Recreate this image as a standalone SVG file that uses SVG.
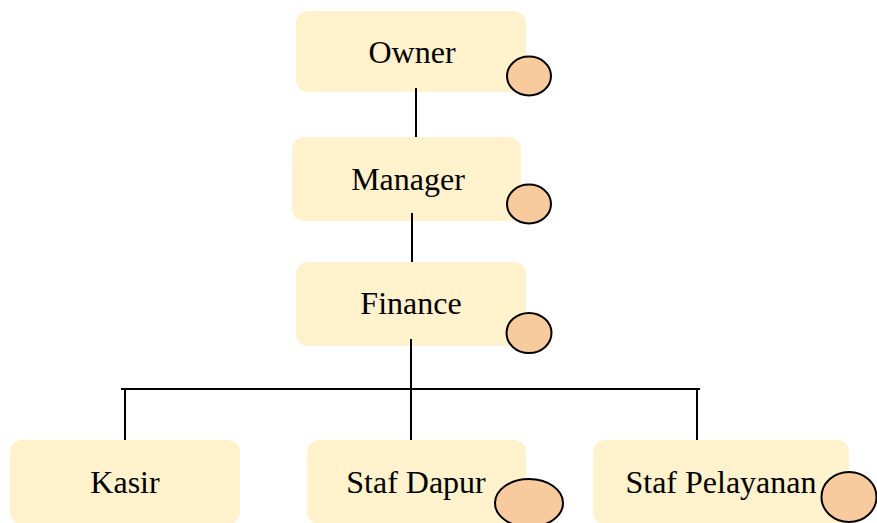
<svg xmlns="http://www.w3.org/2000/svg" width="877" height="523" viewBox="0 0 877 523">
<style>
.box{fill:#FFF2CC;}
.dot{fill:#F8CB9F;stroke:#000;stroke-width:2;}
.lbl{font-family:"Liberation Serif","Times New Roman",serif;font-size:32px;fill:#000;text-anchor:middle;}
.ln{stroke:#000;stroke-width:2;fill:none;}
</style>
<rect width="877" height="523" fill="#fff"/>
<g id="owner">
<rect class="box" x="296" y="11" width="230" height="81" rx="12"/>
<text class="lbl" x="412" y="63">Owner</text>
<ellipse class="dot" cx="529" cy="76" rx="22" ry="19.5"/>
</g>
<g id="manager">
<rect class="box" x="292" y="137" width="229" height="84" rx="12"/>
<text class="lbl" x="408" y="190">Manager</text>
<ellipse class="dot" cx="529" cy="204" rx="22" ry="19.5"/>
</g>
<g id="finance">
<rect class="box" x="296" y="262" width="230" height="84" rx="12"/>
<text class="lbl" x="411" y="314">Finance</text>
<ellipse class="dot" cx="529" cy="333" rx="22.5" ry="20"/>
</g>
<g id="kasir">
<rect class="box" x="10" y="440" width="230" height="84" rx="12"/>
<text class="lbl" x="125" y="493">Kasir</text>
</g>
<g id="staf-dapur">
<rect class="box" x="307" y="440" width="219" height="84" rx="12"/>
<text class="lbl" x="416" y="493">Staf Dapur</text>
<ellipse class="dot" cx="529" cy="503" rx="34" ry="24"/>
</g>
<g id="staf-pelayanan">
<rect class="box" x="593" y="440" width="256" height="84" rx="12"/>
<text class="lbl" x="721" y="493">Staf Pelayanan</text>
<ellipse class="dot" cx="849" cy="497" rx="27.5" ry="25"/>
</g>
<g id="connectors">
<line class="ln" x1="416" y1="88" x2="416" y2="137"/>
<line class="ln" x1="412" y1="213" x2="412" y2="262"/>
<line class="ln" x1="411" y1="339" x2="411" y2="440"/>
<line class="ln" x1="121" y1="389" x2="700" y2="389"/>
<line class="ln" x1="125" y1="389" x2="125" y2="440"/>
<line class="ln" x1="697" y1="389" x2="697" y2="440"/>
</g>
</svg>
